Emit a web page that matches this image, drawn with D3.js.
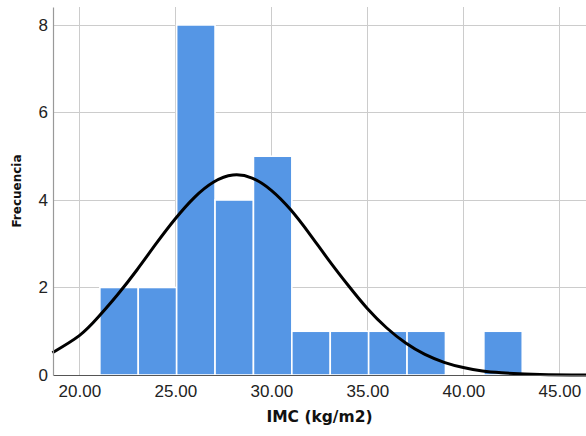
<!DOCTYPE html>
<meta charset="utf-8">
<style>
body { margin: 0; background: #fff; }
svg { display: block; font-family: "DejaVu Sans", sans-serif; }
.grid line { stroke: #cccccc; stroke-width: 1; }
.bar { fill: #5596e5; stroke: #ffffff; stroke-width: 1.6; }
.tick-label { font-size: 17px; fill: #222; }
.title { font-weight: bold; fill: #111; }
</style>
<body>
<script src="https://cdnjs.cloudflare.com/ajax/libs/d3/7.8.5/d3.min.js"></script>
<script>

// histogram bins (IMC kg/m2), width 2
var binEdges = [21.07, 23.07, 25.07, 27.07, 29.07, 31.07, 33.07, 35.07, 37.07, 39.07, 41.07, 43.07];
var binCounts = [2, 2, 8, 4, 5, 1, 1, 1, 1, 0, 1];

// normal curve
var curveX = [18.6, 20, 21, 22, 23, 24, 25, 26, 27, 28, 29, 30, 31, 32, 33, 34, 35, 36, 37, 38, 39, 40, 41, 42, 44, 46.4];
var curveY = [0.51, 0.90, 1.33, 1.84, 2.40, 3.00, 3.57, 4.06, 4.41, 4.57, 4.50, 4.22, 3.78, 3.22, 2.62, 2.05, 1.52, 1.08, 0.73, 0.47, 0.29, 0.17, 0.09, 0.05, 0.01, 0.00];

var xTicks = [20, 25, 30, 35, 40, 45];
var yTicks = [0, 2, 4, 6, 8];

var margin = {top: 7, right: 0, bottom: 61, left: 53},
    width = 586 - margin.left - margin.right,
    height = 436 - margin.top - margin.bottom;

var x = d3.scaleLinear().domain([18.63, 46.39]).range([0, width]);
var y = d3.scaleLinear().domain([0, 8.41]).range([height, 0]);

var svg = d3.select("body").append("svg")
    .attr("width", 586)
    .attr("height", 436)
  .append("g")
    .attr("transform", "translate(" + margin.left + "," + margin.top + ")");

// gridlines
var grid = svg.append("g").attr("class", "grid");
grid.selectAll(".vg").data(xTicks).enter().append("line")
    .attr("x1", function(d) { return Math.round(x(d)) + 0.5; })
    .attr("x2", function(d) { return Math.round(x(d)) + 0.5; })
    .attr("y1", 0).attr("y2", height);
grid.selectAll(".hg").data(yTicks.slice(1)).enter().append("line")
    .attr("y1", function(d) { return Math.round(y(d)) + 0.5; })
    .attr("y2", function(d) { return Math.round(y(d)) + 0.5; })
    .attr("x1", 0).attr("x2", width);

// bars
var bins = binCounts.map(function(c, i) { return {x0: binEdges[i], x1: binEdges[i + 1], n: c}; })
    .filter(function(d) { return d.n > 0; });
svg.selectAll(".bar").data(bins).enter().append("rect")
    .attr("class", "bar")
    .attr("x", function(d) { return x(d.x0); })
    .attr("width", function(d) { return x(d.x1) - x(d.x0); })
    .attr("y", function(d) { return y(d.n); })
    .attr("height", function(d) { return y(0) - y(d.n); });

// normal curve
var pts = curveX.map(function(v, i) { return [v, curveY[i]]; });
svg.append("path")
    .datum(pts)
    .attr("fill", "none")
    .attr("stroke", "#000")
    .attr("stroke-width", 3)
    .attr("d", d3.line()
        .x(function(d) { return x(d[0]); })
        .y(function(d) { return y(d[1]); })
        .curve(d3.curveNatural));

// axes
var xAxis = svg.append("g")
    .attr("transform", "translate(0," + height + ")")
    .call(d3.axisBottom(x).tickValues(xTicks).tickSize(0).tickPadding(10)
        .tickFormat(d3.format(".2f")));
xAxis.select(".domain").attr("stroke", "#555").attr("stroke-width", 1.2);
xAxis.selectAll("text").attr("class", "tick-label").attr("font-family", null).attr("font-size", null);

var yAxis = svg.append("g")
    .call(d3.axisLeft(y).tickValues(yTicks).tickSize(0).tickPadding(5)
        .tickFormat(d3.format("d")));
yAxis.select(".domain").attr("stroke", "#999").attr("stroke-width", 1.2);
yAxis.selectAll("text").attr("class", "tick-label").attr("font-family", null).attr("font-size", null);

// titles
svg.append("text")
    .attr("class", "title")
    .attr("x", width / 2)
    .attr("y", height + 47)
    .attr("text-anchor", "middle")
    .style("font-size", "15.5px")
    .text("IMC (kg/m2)");

svg.append("text")
    .attr("class", "title")
    .attr("transform", "translate(" + (-32) + "," + (height / 2) + ") rotate(-90)")
    .attr("text-anchor", "middle")
    .style("font-size", "12px")
    .text("Frecuencia");

</script>
</body>
